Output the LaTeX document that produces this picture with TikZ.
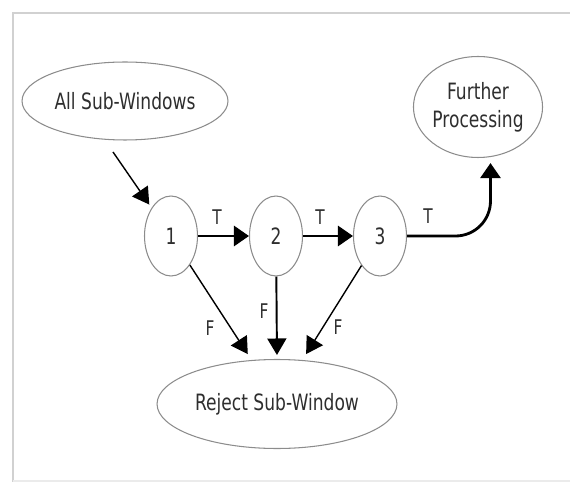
\documentclass[tikz,border=0pt]{standalone}
\usepackage{fontspec}
\newfontfamily\diagfont{DejaVu Sans}[FakeStretch=0.76]
\usetikzlibrary{shapes.geometric,arrows.meta}
\begin{document}
\begin{tikzpicture}[x=0.02cm,y=-0.02cm,
  blob/.style={ellipse,draw=black!45,line width=0.6pt,inner sep=0pt,text=black!82,
    font=\diagfont\fontsize{12.8}{16}\selectfont,align=center},
  lbl/.style={inner sep=0pt,text=black!82,font=\diagfont\fontsize{11.5}{13}\selectfont},
  tarrow/.style={line width=1.6pt,-{Triangle[length=0.3cm,width=0.4cm]}},
  farrow/.style={line width=0.8pt,-{Triangle[length=0.33cm,width=0.38cm]}}]
\useasboundingbox (0,0) rectangle (570,482);
%\draw[help lines, step=50] (0,0) grid (570,482);
% frame
\draw[black!18,line width=1.2pt] (13,482) -- (13,13) -- (570,13);
\draw[black!8,line width=0.6pt] (13,481) -- (570,481);

\node[blob,minimum width=4.12cm,minimum height=1.56cm](asw) at (125,101) {All Sub-Windows};
\node[blob,minimum width=2.26cm,minimum height=2.02cm](fp) at (478,107) {Further\\Processing};
\node[blob,minimum width=1.06cm,minimum height=1.6cm](n1) at (171,236) {1};
\node[blob,minimum width=1.06cm,minimum height=1.6cm](n2) at (276,236) {2};
\node[blob,minimum width=1.06cm,minimum height=1.6cm](n3) at (380,236) {3};
\node[blob,minimum width=4.8cm,minimum height=1.78cm](rej) at (277,404) {Reject Sub-Window};
\coordinate (in) at (113,152);

\node[lbl](t1) at (217,217) {T};
\node[lbl](t2) at (320,217) {T};
\node[lbl](t3) at (428,216) {T};
\node[lbl](f1) at (210,328) {F};
\node[lbl](f2) at (264,311) {F};
\node[lbl](f3) at (338,327) {F};

\draw[farrow,shorten >=0.08cm](in)--(n1);
\draw[tarrow](n1)--(n2);
\draw[tarrow](n2)--(n3);
\draw[tarrow,rounded corners=0.7cm,shorten >=0.12cm](n3.east) -| (fp.-76);
\draw[farrow,shorten >=0.14cm](n1)--(rej.120);
\draw[farrow,line width=1.1pt,shorten >=0.08cm](n2)--(rej.north);
\draw[farrow,shorten >=0.14cm](n3)--(rej.60);
\end{tikzpicture}
\end{document}
